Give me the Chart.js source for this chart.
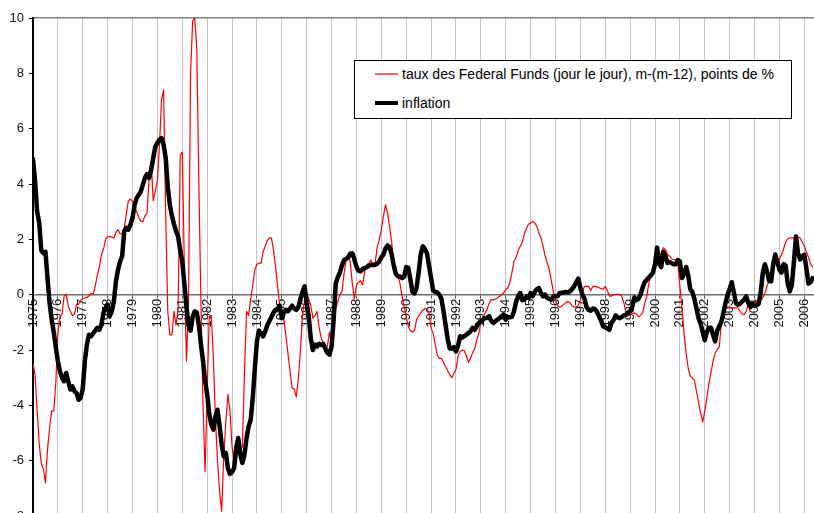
<!DOCTYPE html>
<html lang="fr">
<head>
<meta charset="utf-8">
<title>Federal Funds et inflation</title>
<script src="https://cdn.jsdelivr.net/npm/chart.js@4.4.1/dist/chart.umd.min.js"></script>
<style>
  html, body { margin: 0; padding: 0; background: #fff; overflow: hidden; }
  #wrap { position: relative; width: 814px; height: 513px; overflow: hidden; }
  #chart { position: absolute; left: 0; top: 0; }
  #legend {
    position: absolute; left: 354px; top: 60px; width: 436px; height: 57px;
    border: 1px solid #000; background: #fff;
    font: 14px "Liberation Sans", Arial, sans-serif; color: #000;
  }
  .legend-item { position: absolute; left: 20px; height: 16px; display: flex; align-items: center; white-space: nowrap; }
  .legend-swatch { width: 23px; margin-right: 4px; }
</style>
</head>
<body>
<div id="wrap">
  <canvas id="chart" width="814" height="520"></canvas>
  <div id="legend"></div>
</div>
<script>
// Monthly series, January 1975 to May 2006 (one row per year)
const START_YEAR = 1975;
const X_MAX = 2006.39;
const Y_MIN = -8;
const Y_MAX = 10;
const Y_STEP = 2;

const fedFunds = [
  -2.5, -2.9, -4.2, -5.4, -6.1, -6.3, -6.8, -5.6, -4.8, -4.2, -4.2, -3.2,          // 1975
  -1.4, -0.8, -0.7, -0.05, 0.0, -0.4, -0.6, -0.75, -0.7, -0.35, -0.35, -0.2,       // 1976
  -0.15, -0.12, -0.1, -0.05, 0.05, 0.0, 0.3, 0.7, 1.0, 1.45, 1.65, 2.0,            // 1977
  2.1, 2.1, 2.08, 2.05, 2.25, 2.35, 2.2, 2.2, 2.4, 2.9, 3.4, 3.45,                  // 1978
  3.37, 3.2, 3.0, 2.8, 2.65, 2.65, 2.85, 2.95, 4.2, 4.8, 3.4, 3.75,                 // 1979
  4.1, 5.4, 7.05, 7.4, 2.9, -0.6, -1.45, -1.45, -0.6, -1.1, -0.5, 5.05,            // 1980
  5.15, 1.0, -2.4, -0.3, 8.0, 9.9, 10.0, 8.9, 4.0, -0.3, -4.0, -6.4,               // 1981
  -3.5, -0.8, -0.75, -2.3, -4.5, -6.0, -7.1, -7.83, -5.8, -4.6, -3.6, -4.2,        // 1982
  -5.5, -6.0, -5.75, -5.66, -5.6, -5.5, -2.8, -0.6, -0.75, -0.15, 0.35, 0.9,       // 1983
  1.1, 1.14, 1.14, 1.55, 1.75, 1.95, 2.05, 2.05, 1.6, 1.0, 0.3, -0.4,              // 1984
  -0.72, -0.9, -1.5, -2.15, -2.8, -3.4, -3.4, -3.7, -3.0, -2.0, -0.72, -0.18,      // 1985
  0.06, -0.15, -0.4, -0.85, -0.75, -0.6, -1.2, -1.55, -1.8, -2.05, -1.85, -1.35,   // 1986
  -1.8, -1.1, -0.5, -0.25, 0.0, 0.1, 0.75, 1.25, 1.39, 1.2, 0.4, -0.15,            // 1987
  0.35, 0.45, 0.5, 0.35, 0.85, 1.08, 1.14, 1.25, 0.98, 1.14, 1.7, 1.99,            // 1988
  2.35, 2.83, 3.25, 2.95, 2.45, 1.87, 1.2, 0.9, 0.7, 0.4, -0.05, -0.42,            // 1989
  -0.8, -1.14, -1.3, -1.35, -1.3, -0.9, -0.78, -0.66, -0.57, -0.5, -0.52, -0.66,   // 1990
  -1.2, -1.4, -1.8, -2.2, -2.3, -2.3, -2.45, -2.6, -2.75, -2.9, -3.0, -2.85,       // 1991
  -2.71, -2.23, -2.05, -2.0, -2.02, -2.2, -2.45, -2.3, -2.1, -1.95, -1.65, -1.39,  // 1992
  -1.02, -0.8, -0.66, -0.54, -0.3, -0.18, -0.18, -0.16, -0.12, -0.06, 0.0, 0.06,   // 1993
  0.18, 0.25, 0.45, 0.8, 1.2, 1.35, 1.6, 1.75, 1.9, 2.2, 2.4, 2.55,                // 1994
  2.59, 2.65, 2.6, 2.47, 2.23, 2.05, 1.75, 1.4, 1.15, 0.9, 0.5, 0.1,               // 1995
  -0.2, -0.4, -0.45, -0.42, -0.35, -0.28, -0.25, -0.3, -0.4, -0.45, -0.45, -0.4,   // 1996
  -0.18, 0.1, 0.3, 0.3, 0.3, 0.15, 0.3, 0.3, 0.28, 0.25, 0.22, 0.2,                // 1997
  0.3, 0.15, -0.05, -0.05, 0.0, 0.0, 0.02, 0.0, -0.06, -0.3, -0.65, -0.75,         // 1998
  -0.75, -0.68, -0.66, -0.7, -0.8, -0.75, -0.66, -0.32, -0.05, 0.4, 0.7, 1.0,      // 1999
  1.1, 1.27, 1.39, 1.5, 1.7, 1.63, 1.45, 1.39, 1.3, 1.27, 1.27, 1.14,              // 2000
  0.3, -0.5, -1.4, -2.1, -2.65, -2.95, -3.0, -3.1, -3.5, -3.9, -4.28, -4.6,        // 2001
  -4.2, -3.73, -3.2, -2.8, -2.4, -2.11, -1.98, -1.9, -1.0, -0.66, -0.5, -0.48,     // 2002
  -0.48, -0.48, -0.48, -0.48, -0.48, -0.6, -0.7, -0.72, -0.6, -0.35, -0.3, -0.28,  // 2003
  -0.26, -0.24, -0.24, -0.2, -0.1, 0.05, 0.3, 0.5, 0.75, 0.98, 1.1, 1.2,           // 2004
  1.27, 1.45, 1.65, 1.9, 2.02, 2.05, 2.05, 2.05, 2.0, 2.08, 2.05, 1.9,             // 2005
  1.75, 1.55, 1.35, 1.12, 1.0                                                      // 2006
];

const inflation = [
  4.9, 4.1, 3.0, 2.6, 1.6, 1.5, 1.55, 0.6, -0.3, -0.9, -1.35, -1.9,                // 1975
  -2.41, -2.77, -3.0, -3.13, -2.83, -3.13, -3.43, -3.31, -3.49, -3.55, -3.8, -3.73, // 1976
  -3.4, -2.4, -1.8, -1.45, -1.5, -1.4, -1.3, -1.2, -1.27, -1.08, -0.66, -0.48,     // 1977
  -0.36, -0.78, -0.6, -0.24, 0.48, 0.9, 1.2, 1.39, 2.29, 2.41, 2.35, 2.53,         // 1978
  2.77, 3.25, 3.49, 3.61, 3.73, 3.98, 4.22, 4.36, 4.22, 4.52, 4.94, 5.36,          // 1979
  5.48, 5.6, 5.66, 5.42, 4.94, 3.9, 3.25, 2.85, 2.55, 2.3, 2.1, 1.6,               // 1980
  1.2, 0.4, -0.4, -1.1, -1.3, -0.8, -0.6, -0.65, -1.1, -1.8, -2.4, -3.1,           // 1981
  -3.6, -4.3, -4.7, -4.88, -4.4, -4.16, -4.75, -5.42, -5.84, -5.72, -6.27, -6.48,  // 1982
  -6.41, -6.27, -5.54, -5.18, -5.78, -6.08, -5.78, -5.18, -4.76, -4.52, -3.73, -2.65, // 1983
  -1.69, -1.3, -1.39, -1.51, -1.33, -1.1, -0.95, -0.8, -0.65, -0.55, -0.5, -0.4,   // 1984
  -0.85, -0.65, -0.55, -0.6, -0.5, -0.4, -0.5, -0.55, -0.45, -0.15, 0.1, 0.3,      // 1985
  -0.3, -0.8, -1.6, -2.0, -1.8, -1.87, -1.78, -1.82, -1.78, -1.95, -2.1, -2.17,    // 1986
  -1.87, -0.9, 0.4, 0.63, 0.8, 1.05, 1.25, 1.29, 1.35, 1.48, 1.5, 1.27,            // 1987
  1.02, 0.86, 0.84, 0.93, 0.96, 0.99, 1.05, 1.08, 1.08, 1.08, 1.12, 1.2,           // 1988
  1.35, 1.45, 1.67, 1.78, 1.72, 1.45, 1.05, 0.75, 0.66, 0.66, 0.6, 0.65,           // 1989
  1.0, 0.97, 0.55, 0.1, 0.05, 0.25, 0.8, 1.45, 1.75, 1.65, 1.5, 1.05,              // 1990
  0.6, 0.15, 0.1, 0.08, 0.0, -0.15, -0.6, -1.1, -1.6, -1.95, -1.95, -1.9,          // 1991
  -2.05, -1.85, -1.5, -1.55, -1.5, -1.45, -1.39, -1.33, -1.2, -1.27, -1.14, -1.02, // 1992
  -0.96, -0.9, -0.84, -0.84, -0.78, -0.95, -1.02, -0.96, -0.9, -0.85, -0.78, -0.72, // 1993
  -0.9, -0.8, -0.82, -0.8, -0.6, -0.25, -0.06, 0.06, -0.2, -0.18, -0.06, -0.12,    // 1994
  0.06, -0.06, 0.1, 0.2, 0.24, 0.06, -0.06, 0.0, -0.12, -0.15, -0.18, -0.06,       // 1995
  -0.06, -0.06, 0.06, 0.07, 0.08, 0.1, 0.08, 0.12, 0.2, 0.3, 0.45, 0.58,           // 1996
  0.25, 0.0, -0.15, -0.45, -0.55, -0.58, -0.5, -0.52, -0.62, -0.78, -0.95, -1.14,  // 1997
  -1.18, -1.22, -1.27, -1.02, -0.92, -0.75, -0.82, -0.85, -0.8, -0.75, -0.73, -0.65, // 1998
  -0.6, -0.45, -0.1, -0.2, -0.15, 0.0, 0.25, 0.45, 0.54, 0.62, 0.7, 0.8,           // 1999
  1.1, 1.7, 1.1, 1.0, 1.55, 1.4, 1.15, 1.18, 1.14, 1.1, 1.1, 1.25,                 // 2000
  1.2, 0.6, 0.75, 1.0, 0.7, 0.2, 0.1, -0.15, -0.5, -0.85, -1.05, -1.35,            // 2001
  -1.65, -1.35, -1.2, -1.2, -1.45, -1.69, -1.3, -1.14, -0.98, -0.65, -0.3, 0.0,    // 2002
  0.2, 0.45, 0.1, -0.3, -0.36, -0.33, -0.25, -0.18, -0.06, -0.3, -0.45, -0.32,     // 2003
  -0.4, -0.38, -0.33, 0.1, 0.8, 1.1, 0.84, 0.5, 0.48, 1.1, 1.45, 1.2,              // 2004
  0.9, 0.8, 1.1, 1.05, 0.4, 0.12, 0.35, 1.2, 2.1, 1.5, 1.27, 1.38,                 // 2005
  1.45, 0.95, 0.4, 0.45, 0.6                                                       // 2006
];

const seriesLabels = [
  'taux des Federal Funds (jour le jour), m-(m-12), points de %',
  'inflation'
];

Chart.defaults.font.family = '"Liberation Sans", Arial, sans-serif';
Chart.defaults.font.size = 13;
Chart.defaults.color = '#111';

// month index -> fractional year on the linear x scale
function toPoints(values) {
  return values.map((v, i) => ({ x: START_YEAR + i / 12, y: v }));
}

// axes that should not eat any layout space
function noSpace(scale) {
  scale.height = 0;
  scale.paddingLeft = 0;
  scale.paddingRight = 0;
}

const chart = new Chart(document.getElementById('chart'), {
  type: 'line',
  data: {
    datasets: [{
      label: seriesLabels[0],
      data: toPoints(fedFunds),
      borderColor: '#ff0000',
      borderWidth: 1.2,
      order: 2
    }, {
      label: seriesLabels[1],
      data: toPoints(inflation),
      borderColor: '#000000',
      borderWidth: 4.5,
      order: 1
    }]
  },
  options: {
    responsive: false,
    animation: false,
    events: [],
    layout: { padding: { top: 18, bottom: 4, left: 0, right: 0 } },
    elements: {
      point: { radius: 0 },
      line: { tension: 0, borderJoinStyle: 'round', borderCapStyle: 'round' }
    },
    plugins: {
      legend: { display: false },
      tooltip: { enabled: false }
    },
    scales: {
      x: {
        type: 'linear',
        position: { y: 0 },
        min: START_YEAR,
        max: X_MAX,
        afterFit: noSpace,
        grid: {
          color: ctx => (ctx.tick && ctx.tick.value === START_YEAR) ? 'rgba(0,0,0,0)' : '#c4c4c4',
          lineWidth: 1,
          tickColor: '#555',
          tickLength: 3
        },
        border: { color: '#6e6e6e', width: 1.5 },
        ticks: {
          stepSize: 1,
          autoSkip: false,
          includeBounds: false,
          minRotation: 90,
          maxRotation: 90,
          padding: 1,
          callback: v => String(v)
        }
      },
      xTop: {
        type: 'linear',
        axis: 'x',
        position: 'top',
        min: 0,
        max: 1,
        afterFit: noSpace,
        grid: { display: false },
        ticks: { display: false },
        border: { color: '#808080', width: 1.5 }
      },
      y: {
        min: Y_MIN,
        max: Y_MAX,
        afterFit: scale => {
          scale.width = 33;
          scale.paddingTop = 0;
          scale.paddingBottom = 0;
        },
        grid: { drawOnChartArea: false, tickColor: '#000', tickLength: 4 },
        border: { color: '#000', width: 2 },
        ticks: { stepSize: Y_STEP, padding: 5 }
      }
    }
  }
});

// Legend box drawn as html, from the chart's own datasets
function buildLegend(chart) {
  const box = document.getElementById('legend');
  const rows = [13, 42];
  chart.data.datasets.forEach((ds, i) => {
    const item = document.createElement('div');
    item.className = 'legend-item';
    item.style.top = (rows[i] - 8) + 'px';
    const swatch = document.createElement('span');
    swatch.className = 'legend-swatch';
    swatch.style.borderTop = (i === 0 ? 2 : 4) + 'px solid ' + (i === 0 ? '#ff6060' : ds.borderColor);
    const text = document.createElement('span');
    text.textContent = ds.label;
    item.appendChild(swatch);
    item.appendChild(text);
    box.appendChild(item);
  });
}

buildLegend(chart);
</script>
</body>
</html>
